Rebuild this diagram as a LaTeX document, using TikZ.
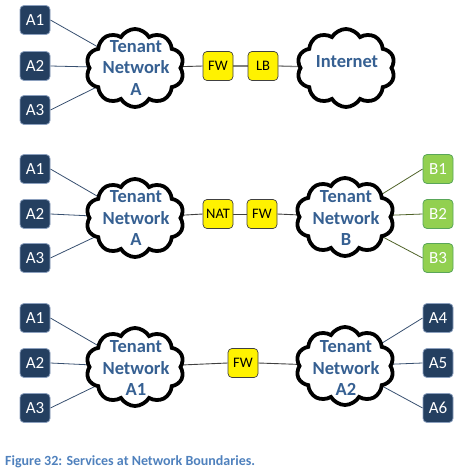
\documentclass[tikz,border=0pt]{standalone}
\usepackage{fontspec}
\setmainfont{Carlito}
\usetikzlibrary{shapes.symbols,backgrounds}
\definecolor{navy}{RGB}{36,63,96}
\definecolor{navyedge}{RGB}{140,160,190}
\definecolor{cloudtext}{RGB}{54,96,146}
\definecolor{linkblue}{RGB}{56,80,112}
\definecolor{greenbox}{RGB}{146,208,80}
\definecolor{greenline}{RGB}{79,98,40}
\definecolor{captionblue}{RGB}{79,129,189}
\tikzset{
  abox/.style={draw=navyedge, line width=0.8pt, fill=navy, rounded corners=4pt,
    minimum width=30pt, minimum height=29pt, inner sep=0pt, text=white,
    font=\fontsize{17}{17}\selectfont},
  bbox/.style={abox, fill=greenbox, draw=gray!70!green},
  ybox/.style={draw=black!75, line width=0.7pt, fill=yellow, rounded corners=4pt,
    minimum width=30pt, minimum height=29pt, inner sep=0pt, text=black,
    font=\fontsize{14.5}{14.5}\selectfont},
  cloudshape/.style={cloud, cloud puffs=10, cloud puff arc=120, aspect=1.25,
    draw=black, line width=3.8pt, fill=white, minimum width=98pt, minimum height=78pt,
    inner sep=0pt},
  cloudlabel/.style={text=cloudtext, align=center, inner sep=0pt,
    font=\bfseries\fontsize{18.5}{21.5}\selectfont},
  alink/.style={draw=linkblue, line width=0.8pt},
  glink/.style={draw=greenline, line width=0.8pt},
  dlink/.style={draw=black!75, line width=0.9pt},
  grlink/.style={draw=black!50, line width=1.3pt},
}
\begin{document}
\begin{tikzpicture}[x=1pt,y=-1pt]
\useasboundingbox (0,0) rectangle (463,474);
% ---- row 1
\node[abox] (r1a1) at (35,20) {A1};
\node[abox] (r1a2) at (35,66) {A2};
\node[abox] (r1a3) at (35,110) {A3};
\node[cloudshape] (r1ca) at (135,68) {};
\node[cloudlabel] (r1ta) at (136,68) {Tenant\\Network\\A};
\node[ybox] (r1fw) at (218,66) {FW};
\node[ybox] (r1lb) at (263,66) {LB};
\node[cloudshape] (r1ci) at (346,68) {};
\node[cloudlabel] (r1ti) at (347,62) {Internet};
% ---- row 2
\node[abox] (r2a1) at (35,169) {A1};
\node[abox] (r2a2) at (35,214) {A2};
\node[abox] (r2a3) at (35,258) {A3};
\node[cloudshape] (r2ca) at (135,218) {};
\node[cloudlabel] (r2ta) at (136,218) {Tenant\\Network\\A};
\node[ybox] (r2nat) at (218,214) {NAT};
\node[ybox] (r2fw) at (262,214) {FW};
\node[cloudshape] (r2cb) at (345,217) {};
\node[cloudlabel] (r2tb) at (346,218) {Tenant\\Network\\B};
\node[bbox] (r2b1) at (438,169) {B1};
\node[bbox] (r2b2) at (438,214) {B2};
\node[bbox] (r2b3) at (438,258) {B3};
% ---- row 3
\node[abox] (r3a1) at (35,318) {A1};
\node[abox] (r3a2) at (35,363) {A2};
\node[abox] (r3a3) at (35,408) {A3};
\node[cloudshape] (r3ca) at (135,367) {};
\node[cloudlabel] (r3ta) at (136,368) {Tenant\\Network\\A1};
\node[ybox] (r3fw) at (243,363) {FW};
\node[cloudshape] (r3cb) at (345,366) {};
\node[cloudlabel] (r3tb) at (346,368) {Tenant\\Network\\A2};
\node[abox] (r3a4) at (438,318) {A4};
\node[abox] (r3a5) at (438,363) {A5};
\node[abox] (r3a6) at (438,408) {A6};
% caption
\node[anchor=west, inner sep=0pt, text=captionblue, font=\bfseries\fontsize{14}{14}\selectfont] (cap) at (5,462) {Figure 32: Services at Network Boundaries.};
% ---- connectors
\begin{pgfonlayer}{background}
\draw[alink] (r1a1.east) -- (r1ca.center);
\draw[alink] (r1a2.east) -- (r1ca.center);
\draw[alink] (r1a3.east) -- (r1ca.center);
\draw[dlink] (r1ca.center) -- (r1fw.west);
\draw[grlink] (r1fw.east) -- (r1lb.west);
\draw[grlink] (r1lb.east) -- (r1ci.center);
\draw[alink] (r2a1.east) -- (r2ca.center);
\draw[alink] (r2a2.east) -- (r2ca.center);
\draw[alink] (r2a3.east) -- (r2ca.center);
\draw[dlink] (r2ca.center) -- (r2nat.west);
\draw[dlink] (r2nat.east) -- (r2fw.west);
\draw[dlink] (r2fw.east) -- (r2cb.center);
\draw[glink] (r2b1.west) -- (r2cb.center);
\draw[glink] (r2b2.west) -- (r2cb.center);
\draw[glink] (r2b3.west) -- (r2cb.center);
\draw[alink] (r3a1.east) -- (r3ca.center);
\draw[alink] (r3a2.east) -- (r3ca.center);
\draw[alink] (r3a3.east) -- (r3ca.center);
\draw[dlink] (r3ca.center) -- (r3fw.west);
\draw[dlink] (r3fw.east) -- (r3cb.center);
\draw[alink] (r3a4.west) -- (r3cb.center);
\draw[alink] (r3a5.west) -- (r3cb.center);
\draw[alink] (r3a6.west) -- (r3cb.center);
\end{pgfonlayer}
\end{tikzpicture}
\end{document}
